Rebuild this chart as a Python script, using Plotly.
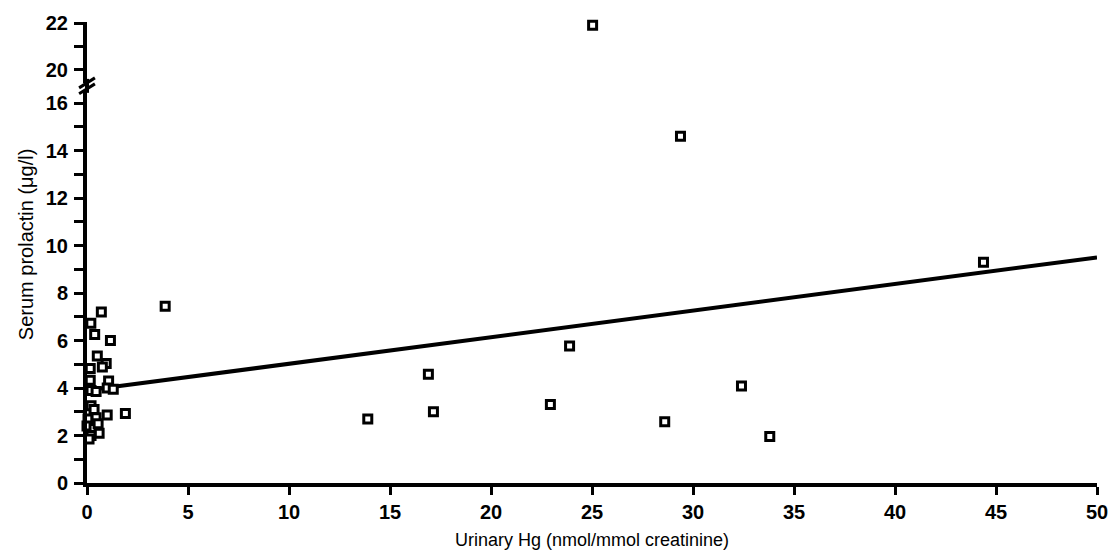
import plotly.graph_objects as go

# Data
urinary_hg = [0.71, 0.19, 0.38, 1.16, 0.51, 0.95, 0.76, 0.16, 0.16, 1.07,
              1.00, 1.30, 0.20, 0.45, 0.20, 0.35, 1.00, 1.90, 0.05, 0.45,
              0.00, 0.35, 0.60, 0.20, 0.10, 0.55,
              3.87, 13.9, 16.9, 17.15, 22.94, 23.89, 28.6, 32.4, 33.8,
              44.38, 29.38, 25.03]
serum_prl = [7.20, 6.73, 6.25, 6.00, 5.35, 5.03, 4.88, 4.82, 4.33, 4.30,
             4.00, 3.95, 3.90, 3.85, 3.25, 3.10, 2.86, 2.93, 2.70, 2.75,
             2.40, 2.30, 2.10, 2.00, 1.85, 2.50,
             7.44, 2.69, 4.58, 3.00, 3.31, 5.77, 2.58, 4.08, 1.96,
             9.30, 14.60, 21.90]

line_x = [0, 50]
line_y = [3.9, 9.5]

x_ticks = [0, 5, 10, 15, 20, 25, 30, 35, 40, 45, 50]
break_value = 18  # values above the axis break go to the upper panel

low_x = [x for x, y in zip(urinary_hg, serum_prl) if y < break_value]
low_y = [y for y in serum_prl if y < break_value]
up_x = [x for x, y in zip(urinary_hg, serum_prl) if y >= break_value]
up_y = [y for y in serum_prl if y >= break_value]

W, H = 1120, 551
L, R, T, B = 87, 12, 21, 68
pw, ph = W - L - R, H - T - B

def px(xp):
    return (xp - L) / pw

def py(yp):
    return (H - B - yp) / ph

marker = dict(symbol="square", size=8, color="white",
              line=dict(color="black", width=3))

fig = go.Figure()
fig.add_trace(go.Scatter(x=line_x, y=line_y, mode="lines",
                         line=dict(color="black", width=4),
                         xaxis="x", yaxis="y", hoverinfo="skip"))
fig.add_trace(go.Scatter(x=low_x, y=low_y, mode="markers", marker=marker,
                         cliponaxis=False, xaxis="x", yaxis="y"))
fig.add_trace(go.Scatter(x=up_x, y=up_y, mode="markers", marker=marker,
                         cliponaxis=False, xaxis="x", yaxis="y2"))

font_family = "Liberation Sans, Arial, sans-serif"
tickfont = dict(family=font_family, size=20, color="black", weight="bold")

common_y = dict(showgrid=False, zeroline=False, showline=True,
                linecolor="black", linewidth=4, ticks="outside",
                ticklen=9, tickwidth=3, tickcolor="black", dtick=2, tick0=0,
                tickfont=tickfont, ticklabelstandoff=2,
                minor=dict(dtick=1, tick0=0, ticks="outside", ticklen=9,
                           tickwidth=3, tickcolor="black", showgrid=False))

lower_top = 90
upper_bottom = 82
fig.update_layout(
    width=W, height=H,
    margin=dict(l=L, r=R, t=T, b=B),
    paper_bgcolor="white", plot_bgcolor="white",
    showlegend=False,
    xaxis=dict(range=[0, 50], tickvals=x_ticks, showgrid=False,
               zeroline=False, showline=True, linecolor="black",
               linewidth=4, ticks="outside", ticklen=8, tickwidth=3,
               tickcolor="black", tickfont=tickfont, anchor="y",
               ticklabelstandoff=0),
    yaxis=dict(range=[0, (H - B - lower_top) / 23.8],
               domain=[0, py(lower_top)], anchor="x", **common_y),
    yaxis2=dict(range=[20 - (upper_bottom - 69) / 23.5, 22 + 1 / 23.5],
                domain=[py(upper_bottom), 1], anchor="x", **common_y),
    annotations=[
        dict(text="Urinary Hg (nmol/mmol creatinine)", xref="paper",
             yref="paper", x=0.5, y=py(540), xanchor="center",
             yanchor="middle", showarrow=False,
             font=dict(family=font_family, size=18, color="black")),
        dict(text="Serum prolactin (\u03bcg/l)", xref="paper", yref="paper",
             x=px(25), y=py(244), xanchor="center", yanchor="middle",
             textangle=-90, showarrow=False,
             font=dict(family=font_family, size=20, color="black")),
    ],
    shapes=[
        dict(type="line", xref="paper", yref="paper",
             x0=px(87), x1=px(87), y0=py(92), y1=py(78),
             line=dict(color="black", width=4)),
        dict(type="line", xref="paper", yref="paper",
             x0=px(79), x1=px(95), y0=py(87), y1=py(77),
             line=dict(color="black", width=3)),
        dict(type="line", xref="paper", yref="paper",
             x0=px(79), x1=px(95), y0=py(93), y1=py(83),
             line=dict(color="black", width=3)),
    ],
)

fig.write_html("out.html",
               config={"displayModeBar": False},
               post_script="document.body.style.margin='0px';"
                           "document.body.style.overflow='hidden';")
